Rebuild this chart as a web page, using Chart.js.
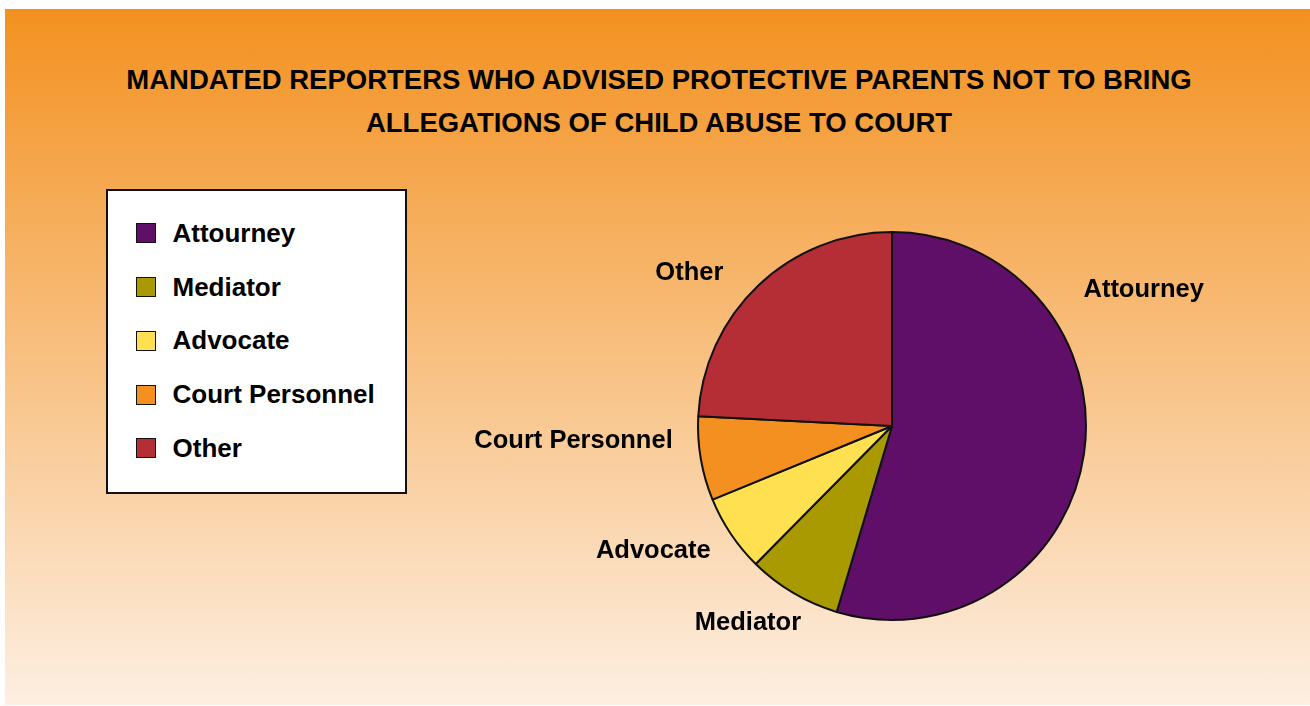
<!DOCTYPE html>
<html>
<head>
<meta charset="utf-8">
<script src="https://cdn.jsdelivr.net/npm/chart.js@4.4.1/dist/chart.umd.min.js"></script>
<style>
    html, body { margin: 0; padding: 0; background: #fff; }
    body {
        width: 1310px; height: 706px; position: relative; overflow: hidden;
        font-family: "Liberation Sans", Arial, sans-serif; font-weight: bold; color: #000;
    }
    #panel {
        position: absolute; left: 5px; top: 9px; width: 1305px; height: 696px;
        background: linear-gradient(to bottom, #f39120 0%, #fdefe2 100%);
    }
    #title {
        position: absolute; left: 10px; width: 1298px; top: 58px;
        text-align: center; font-size: 27.5px; line-height: 43px;
    }
    #legend {
        position: absolute; left: 106px; top: 189px; width: 301px; height: 305px;
        box-sizing: border-box; border: 2px solid #111; background: #fff; padding-top: 15.5px;
    }
    .legend-row { height: 53.75px; display: flex; align-items: center; padding-left: 28px; font-size: 26px; }
    .legend-swatch { width: 20px; height: 20px; box-sizing: border-box; border: 1.5px solid #111; margin-right: 16.5px; }
    #chart-wrap { position: absolute; left: 0; top: 0; width: 1310px; height: 706px; }
</style>
</head>
<body>
<div id="panel"></div>
<div id="title">MANDATED REPORTERS WHO ADVISED PROTECTIVE PARENTS NOT TO BRING<br>ALLEGATIONS OF CHILD ABUSE TO COURT</div>
<div id="legend"></div>
<div id="chart-wrap"><canvas id="pie-chart"></canvas></div>

<script>
// data (share of respondents, %)
const categories = ['Attourney', 'Mediator', 'Advocate', 'Court Personnel', 'Other'];
const shares = [54.6, 7.8, 6.4, 7.0, 24.2];
const sliceColors = ['#5f0f68', '#a89a00', '#ffe050', '#f39020', '#b52d35'];

// where each outside label sits: angle from 12 o'clock (clockwise), distance in pie radii
const labelSpots = [
    {angle: 61.3, dist: 1.479},
    {angle: 216.4, dist: 1.251},
    {angle: 242.6, dist: 1.386},
    {angle: 267.6, dist: 1.643},
    {angle: 307.4, dist: 1.315}
];

// draws the category names around the pie
const outsideLabels = {
    id: 'outsideLabels',
    afterDatasetsDraw(chart, args, opts) {
        const ctx = chart.ctx;
        const arcs = chart.getDatasetMeta(0).data;
        ctx.save();
        ctx.font = opts.font;
        ctx.fillStyle = opts.color;
        ctx.textAlign = 'center';
        ctx.textBaseline = 'middle';
        arcs.forEach((arc, i) => {
            const spot = opts.spots[i];
            const a = (spot.angle - 90) * Math.PI / 180;
            const r = arc.outerRadius * spot.dist;
            ctx.fillText(chart.data.labels[i], arc.x + Math.cos(a) * r, arc.y + Math.sin(a) * r + 1.5);
        });
        ctx.restore();
    }
};

function buildLegend() {
    const box = document.getElementById('legend');
    categories.forEach((name, i) => {
        const row = document.createElement('div');
        row.className = 'legend-row';
        const swatch = document.createElement('span');
        swatch.className = 'legend-swatch';
        swatch.style.background = sliceColors[i];
        row.appendChild(swatch);
        row.appendChild(document.createTextNode(name));
        box.appendChild(row);
    });
}

buildLegend();

new Chart(document.getElementById('pie-chart'), {
    type: 'pie',
    data: {
        labels: categories,
        datasets: [{
            data: shares,
            backgroundColor: sliceColors,
            borderColor: '#111',
            borderWidth: 2
        }]
    },
    options: {
        responsive: true,
        maintainAspectRatio: false,
        animation: false,
        layout: {
            padding: {left: 697, right: 223, top: 231, bottom: 85}
        },
        plugins: {
            legend: {display: false},
            tooltip: {enabled: false},
            outsideLabels: {
                spots: labelSpots,
                font: 'bold 25.5px "Liberation Sans", Arial, sans-serif',
                color: '#000'
            }
        }
    },
    plugins: [outsideLabels]
});
</script>
</body>
</html>
